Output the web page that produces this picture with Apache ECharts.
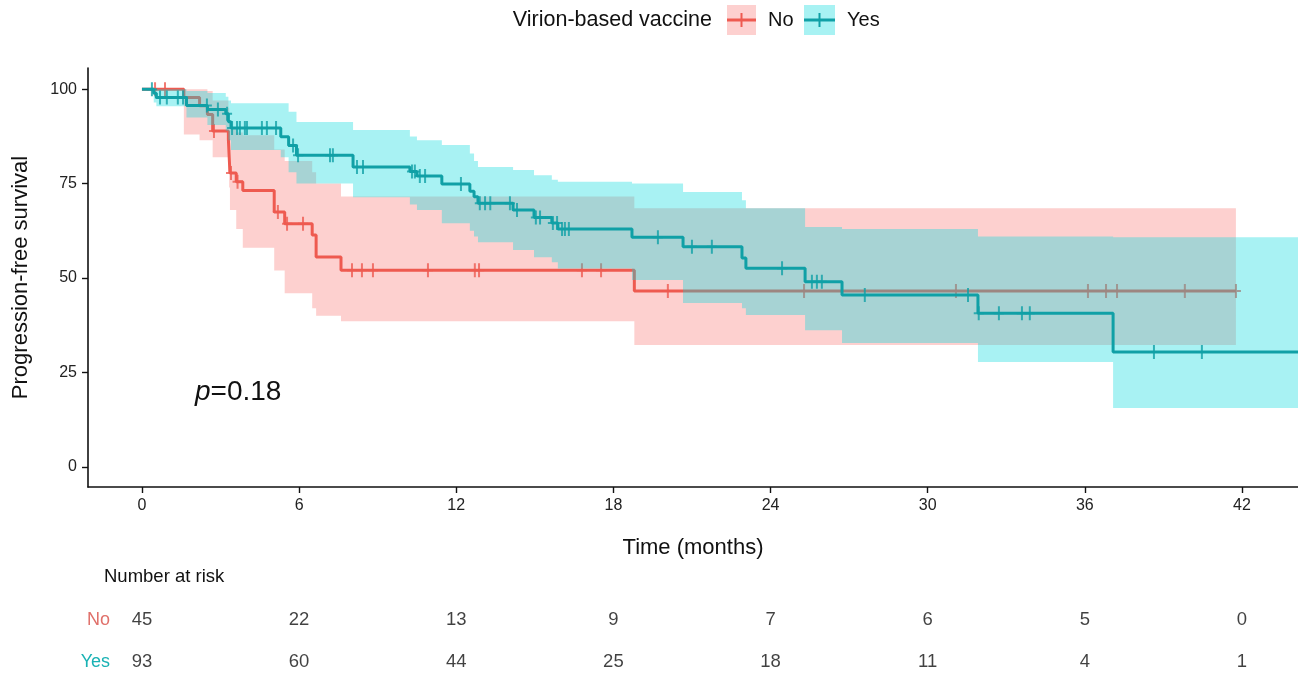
<!DOCTYPE html>
<html><head><meta charset="utf-8">
<script src="https://cdn.jsdelivr.net/npm/echarts@6/dist/echarts.min.js"></script>
<style>html,body{margin:0;padding:0;background:#fff}#c{width:1298px;height:673px}</style>
</head><body><div id="c"></div>
<script>
// ---- data ----
const xTicks = [0, 6, 12, 18, 24, 30, 36, 42];
const yTicks = [0, 25, 50, 75, 100];
const groups = ['No', 'Yes'];

// "No" group: step start times, survival (%), CI lower, CI upper
const noTime  = [0, 1.6, 2.2, 2.5, 2.7, 3.3, 3.33, 3.36, 3.6, 3.85, 5.05, 5.45, 6.5, 6.65, 7.6, 18.8];
const noSurv  = [100, 97.8, 95.6, 93.3, 88.9, 86.7, 82.2, 77.8, 75.5, 73.2, 67.5, 64.4, 61.4, 55.6, 52.1, 46.6];
const noLower = [100, 88, 86.5, 86.5, 82, 78, 74, 68, 63, 58, 52, 46, 42, 40, 38.6, 32.3];
const noUpper = [100, 100, 100, 99.5, 97, 95, 92, 89.5, 88.5, 87.8, 84, 81, 78, 75, 71.6, 68.5];
const noEnd = 41.77;
const noCensor = [0.5, 0.88, 2.75, 3.4, 3.65, 5.19, 5.54, 6.15, 8.02, 8.40, 8.82, 10.92, 12.71, 12.87, 16.80, 17.53, 20.08, 25.28, 31.08, 36.12, 36.81, 37.23, 39.82, 41.77];

// "Yes" group
const yesTime  = [0, 0.45, 0.55, 1.7, 2.5, 3.2, 3.3, 3.4, 5.3, 5.6, 5.9, 8.06, 10.23, 10.5, 11.45, 12.52, 12.68, 12.83, 14.17, 14.97, 15.65, 15.88, 18.71, 20.66, 22.91, 23.06, 25.32, 26.73, 31.92, 37.08];
const yesSurv  = [100, 98.9, 97.8, 95.7, 94.6, 93.5, 91.4, 89.7, 87.4, 85.1, 82.5, 79.4, 78.2, 77.0, 74.9, 73.0, 71.5, 69.8, 68.0, 66.0, 64.6, 63.0, 60.8, 58.3, 55.3, 52.6, 49.0, 45.5, 40.7, 30.4];
const yesLower = [100, 96.5, 95.5, 92.5, 90.5, 89, 86.5, 83.9, 82, 78, 75, 71.4, 69.5, 68, 64.5, 62.5, 61, 59.5, 57.4, 55.5, 54.2, 52.5, 49.5, 43.4, 42, 40.2, 36.2, 32.8, 27.8, 15.6];
const yesUpper = [100, 100, 100, 99.5, 99, 98, 97, 96.3, 96.3, 94, 91.3, 89.2, 87.5, 86.5, 85.2, 83, 81, 79.4, 78.6, 77.2, 76, 75.5, 75, 72.8, 70.6, 68.5, 63.5, 63, 61, 60.8];
const yesEnd = 44.6;
const yesCensor = [0.38, 0.69, 0.95, 1.37, 1.57, 2.48, 2.9, 3.25, 3.44, 3.63, 3.74, 3.93, 4.01, 4.58, 4.77, 5.12, 5.77, 5.96, 7.18, 7.29, 8.21, 8.44, 10.31, 10.42, 10.61, 10.81, 12.18, 12.9, 13.1, 13.3, 14.05, 14.32, 15.04, 15.2, 15.69, 15.85, 16.04, 16.15, 16.3, 19.7, 21.0, 21.76, 24.44, 25.58, 25.77, 25.96, 27.6, 31.54, 31.95, 32.72, 33.6, 33.9, 38.64, 40.47];

// number at risk
const riskNo  = [45, 22, 13, 9, 7, 6, 5, 0];
const riskYes = [93, 60, 44, 25, 18, 11, 4, 1];
const pText = '=0.18';

// ---- helpers ----
const X_MIN = -2.06, X_MAX = 44.14, Y_MIN = -5.3, Y_MAX = 105.6;
const FONT = 'Liberation Sans, Arial, sans-serif';
const RED = '#EE5A50', TEAL = '#10A0A6';
const PINK_FILL = 'rgba(249,121,118,0.35)', CYAN_FILL = 'rgba(6,218,222,0.35)';
const CROSS = 'path://M4,0 h2 v6 h4 v2 h-4 v6 h-2 v-6 h-4 v-2 h4 z';

function stepLine(times, surv, end) {
  const d = times.map((t, i) => [t, surv[i]]);
  d.push([end, surv[surv.length - 1]]);
  return d;
}
function survAt(times, surv, t) {
  let v = surv[0];
  for (let i = 0; i < times.length; i++) if (times[i] <= t) v = surv[i];
  return v;
}
function censorPts(times, surv, cens) { return cens.map(t => [t, survAt(times, surv, t)]); }
function bandSeries(times, lower, upper, end, fill, z) {
  return {
    type: 'custom', xAxisIndex: 0, yAxisIndex: 0, z: z, silent: true,
    data: [[0]],
    renderItem: function (params, api) {
      const n = times.length, pts = [];
      const cl = t => Math.min(t, X_MAX);
      for (let i = 0; i < n; i++) {
        const t1 = i < n - 1 ? times[i + 1] : end;
        pts.push(api.coord([cl(times[i]), upper[i]]));
        pts.push(api.coord([cl(t1), upper[i]]));
      }
      for (let i = n - 1; i >= 0; i--) {
        const t1 = i < n - 1 ? times[i + 1] : end;
        pts.push(api.coord([cl(t1), lower[i]]));
        pts.push(api.coord([cl(times[i]), lower[i]]));
      }
      return { type: 'polygon', shape: { points: pts }, style: { fill: fill } };
    }
  };
}
const riskLabel = { show: true, position: 'inside', formatter: p => String(p.value[2]), fontSize: 18.5,
  color: '#111', textBorderWidth: 0, fontFamily: FONT };

const chart = echarts.init(document.getElementById('c'), null, { renderer: 'canvas' });
const option = {
  animation: false,
  backgroundColor: '#fff',
  textStyle: { fontFamily: FONT },
  grid: [
    { left: 88, right: 0, top: 68, height: 419, containLabel: false, outerBoundsMode: 'none' },
    { left: 88, right: 0, top: 599, height: 84, containLabel: false, outerBoundsMode: 'none' }
  ],
  xAxis: [
    {
      type: 'value', gridIndex: 0, min: X_MIN, max: X_MAX,
      name: 'Time (months)', nameLocation: 'middle', nameGap: 50,
      nameTextStyle: { fontSize: 22, color: '#111', fontFamily: FONT },
      axisLine: { show: true, onZero: false, lineStyle: { color: '#111', width: 1.6 } },
      axisTick: { show: true, length: 6, lineStyle: { color: '#111', width: 1.4 }, customValues: xTicks },
      axisLabel: { fontSize: 16, color: '#222', margin: 11, customValues: xTicks, fontFamily: FONT },
      splitLine: { show: false }
    },
    { type: 'value', gridIndex: 1, min: X_MIN, max: X_MAX, show: false }
  ],
  yAxis: [
    {
      type: 'value', gridIndex: 0, min: Y_MIN, max: Y_MAX,
      name: 'Progression-free survival', nameLocation: 'middle', nameGap: 56, nameRotate: 90,
      nameTextStyle: { fontSize: 22, color: '#111', fontFamily: FONT },
      axisLine: { show: true, onZero: false, lineStyle: { color: '#111', width: 1.6 } },
      axisTick: { show: true, length: 6, lineStyle: { color: '#111', width: 1.4 }, customValues: yTicks },
      axisLabel: { fontSize: 16, color: '#222', margin: 11, customValues: yTicks, fontFamily: FONT },
      splitLine: { show: false }
    },
    {
      type: 'category', gridIndex: 1, data: groups, inverse: true,
      axisLine: { show: false }, axisTick: { show: false },
      axisLabel: { fontSize: 18, margin: -22, fontFamily: FONT,
        color: function (v) { return v === 'No' ? '#E0706A' : '#19B2B4'; } }
    }
  ],
  series: [
    bandSeries(noTime, noLower, noUpper, noEnd, PINK_FILL, 1),
    { type: 'line', name: 'No', step: 'end', data: stepLine(noTime, noSurv, noEnd), showSymbol: false, z: 2,
      lineStyle: { color: RED, width: 3 }, itemStyle: { color: RED } },
    { type: 'scatter', data: censorPts(noTime, noSurv, noCensor), symbol: CROSS, symbolSize: [10, 14], z: 2,
      itemStyle: { color: RED } },
    bandSeries(yesTime, yesLower, yesUpper, yesEnd, CYAN_FILL, 3),
    { type: 'line', name: 'Yes', step: 'end', data: stepLine(yesTime, yesSurv, yesEnd), showSymbol: false, z: 4,
      lineStyle: { color: TEAL, width: 3 }, itemStyle: { color: TEAL } },
    { type: 'scatter', data: censorPts(yesTime, yesSurv, yesCensor), symbol: CROSS, symbolSize: [10, 14], z: 4,
      itemStyle: { color: TEAL } },
    { type: 'scatter', xAxisIndex: 1, yAxisIndex: 1, symbolSize: 0,
      data: xTicks.map((t, i) => [t, 'No', riskNo[i]]), label: riskLabel },
    { type: 'scatter', xAxisIndex: 1, yAxisIndex: 1, symbolSize: 0,
      data: xTicks.map((t, i) => [t, 'Yes', riskYes[i]]), label: riskLabel }
  ],
  graphic: [
    { type: 'text', left: 104, top: 567, style: { text: 'Number at risk', fontSize: 18.5, fill: '#111', fontFamily: FONT } },
    { type: 'text', x: 195, y: 392, style: { text: '{i|p}' + pText, verticalAlign: 'middle', fontSize: 28, fill: '#111', fontFamily: FONT,
        rich: { i: { fontStyle: 'italic', fontSize: 28, fill: '#111', fontFamily: FONT } } } },
    // legend
    { type: 'text', x: 712, y: 20, style: { text: 'Virion-based vaccine', align: 'right', verticalAlign: 'middle', fontSize: 21.5, fill: '#111', fontFamily: FONT } },
    { type: 'rect', shape: { x: 727, y: 5, width: 29, height: 30 }, style: { fill: PINK_FILL } },
    { type: 'rect', shape: { x: 727, y: 18.5, width: 29, height: 3 }, style: { fill: RED } },
    { type: 'rect', shape: { x: 740.5, y: 13, width: 2, height: 14 }, style: { fill: RED } },
    { type: 'text', x: 768, y: 20, style: { text: 'No', verticalAlign: 'middle', fontSize: 20, fill: '#111', fontFamily: FONT } },
    { type: 'rect', shape: { x: 804, y: 5, width: 31, height: 30 }, style: { fill: CYAN_FILL } },
    { type: 'rect', shape: { x: 804, y: 18.5, width: 31, height: 3 }, style: { fill: TEAL } },
    { type: 'rect', shape: { x: 818.5, y: 13, width: 2, height: 14 }, style: { fill: TEAL } },
    { type: 'text', x: 847, y: 20, style: { text: 'Yes', verticalAlign: 'middle', fontSize: 20, fill: '#111', fontFamily: FONT } }
  ]
};
chart.setOption(option);
</script></body></html>
